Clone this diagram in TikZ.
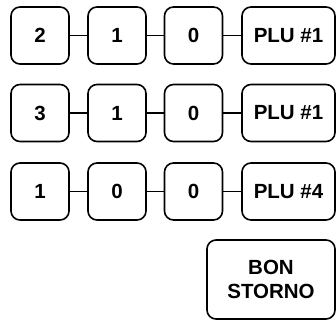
\documentclass[tikz,border=0pt]{standalone}
\usepackage{fontspec}
\setmainfont{Liberation Sans}
\begin{document}
\begin{tikzpicture}[x=1pt, y=-1pt,
    key/.style={draw, line width=1.6pt, rounded corners=9pt, inner sep=0pt,
        minimum width=58pt, minimum height=57pt,
        font=\fontsize{20.5}{23.5}\selectfont\bfseries, align=center},
    wire/.style={line width=1.6pt}]
    \useasboundingbox (0,0) rectangle (336,320);

    % Key sequences, one per row
    \foreach \y/\a/\b/\c/\p [count=\i] in {35.5/2/1/0/1, 113/3/1/0/1, 191.5/1/0/0/4} {
        \node[key] (k\i a) at (40,\y) {\a};
        \node[key] (k\i b) at (117,\y) {\b};
        \node[key] (k\i c) at (193.5,\y) {\c};
        \node[key, minimum width=93pt] (k\i p) at (288.5,\y) {PLU \#\p};
        \draw[wire] (k\i a) -- (k\i b);
        \draw[wire] (k\i b) -- (k\i c);
        \draw[wire] (k\i c) -- (k\i p);
    }

    % Void key
    \node[key, minimum width=128pt, minimum height=79pt] (storno) at (271,279.5) {BON\\STORNO};
\end{tikzpicture}
\end{document}
